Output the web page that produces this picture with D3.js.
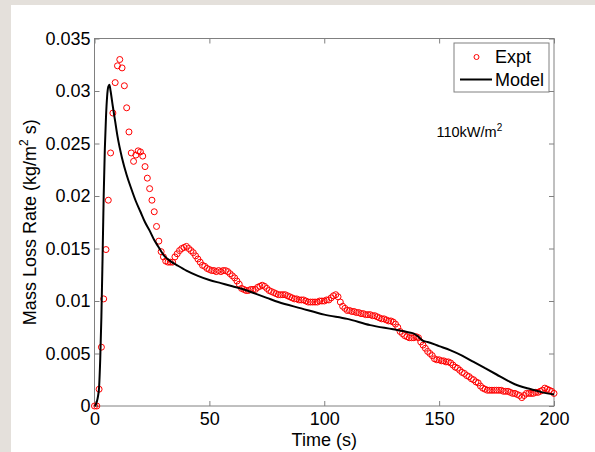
<!DOCTYPE html>
<html>
<head>
<meta charset="utf-8">
<script src="https://cdn.jsdelivr.net/npm/d3@7"></script>
<style>
body{margin:0;background:#fff;overflow:hidden;}
text{font-family:"Liberation Sans",Arial,sans-serif;}
</style>
</head>
<body>
<div class="container"></div>
<script>
// experiment, one sample per second
var exptT=[0,1,2,3,4,5,6,7,8,9,10,11,12,13,14,15,16,17,18,19,20,21,22,23,24,25,26,27,28,29,30,
31,32,33,34,35,36,37,38,39,40,41,42,43,44,45,46,47,48,49,50,51,52,53,54,55,56,57,58,59,60,
61,62,63,64,65,66,67,68,69,70,71,72,73,74,75,76,77,78,79,80,81,82,83,84,85,86,87,88,89,90,
91,92,93,94,95,96,97,98,99,100,101,102,103,104,105,106,107,108,109,110,111,112,113,114,115,116,117,118,119,120,
121,122,123,124,125,126,127,128,129,130,131,132,133,134,135,136,137,138,139,140,141,142,143,144,145,146,147,148,149,150,
151,152,153,154,155,156,157,158,159,160,161,162,163,164,165,166,167,168,169,170,171,172,173,174,175,176,177,178,179,180,
181,182,183,184,185,186,187,188,189,190,191,192,193,194,195,196,197,198,199,200];
var exptV=[0,0,0.0016,0.0056,0.0102,0.0149,0.0196,0.0241,0.0279,0.0308,0.0324,0.0330,0.0322,0.0305,0.0284,0.0261,0.0241,0.0233,0.0239,0.0243,0.0242,
0.0238,0.0228,0.0217,0.0207,0.0196,0.0185,0.0171,0.0157,0.0147,0.0142,
0.0138,0.0137,0.0137,0.0137,0.0142,0.0145,0.0148,0.0150,0.0151,0.0152,
0.0150,0.0148,0.0146,0.0143,0.0140,0.0137,0.0134,0.0133,0.0131,0.0130,
0.0129,0.0129,0.0128,0.0129,0.0128,0.0129,0.0129,0.0128,0.0126,0.0124,
0.0122,0.0119,0.0116,0.0112,0.0111,0.0110,0.0110,0.0111,0.0111,0.0111,
0.0113,0.0114,0.0115,0.0114,0.0112,0.0110,0.0109,0.0108,0.0107,0.0106,
0.0106,0.0106,0.0106,0.0105,0.0104,0.0103,0.0102,0.0102,0.0101,0.0101,
0.0101,0.0100,0.0099,0.0099,0.0099,0.0099,0.0099,0.0100,0.0100,0.0100,
0.0101,0.0101,0.0103,0.0105,0.0106,0.0104,0.0099,0.0095,0.0093,0.0091,
0.0091,0.0090,0.0090,0.0089,0.0089,0.0088,0.0088,0.0087,0.0087,0.0087,
0.0086,0.0086,0.0085,0.0084,0.0083,0.0083,0.0082,0.0081,0.0081,0.0080,
0.0078,0.0075,0.0071,0.0069,0.0067,0.0066,0.0065,0.0065,0.0065,0.0066,
0.0065,0.0061,0.0058,0.0055,0.0052,0.0050,0.0048,0.0045,0.0044,0.0044,
0.0043,0.0043,0.0042,0.0042,0.0041,0.0039,0.0037,0.0036,0.0034,0.0032,
0.0031,0.0029,0.0028,0.0026,0.0025,0.0023,0.0022,0.0019,0.0017,0.0016,
0.0015,0.0015,0.0015,0.0015,0.0015,0.0015,0.0015,0.0014,0.0014,0.0014,
0.0013,0.0012,0.0012,0.0011,0.0010,0.0008,0.0010,0.0012,0.0012,0.0012,
0.0012,0.0013,0.0013,0.0014,0.0015,0.0017,0.0016,0.0015,0.0014,0.0012];

// model curve
var modelT=[0,0.5,1,1.5,2,2.5,3,3.5,4,4.5,5,5.5,6,6.5,7,8,9,10,12,14,16,18,20,22,24,26,28,30,33,36,40,45,50,55,60,65,70,75,80,90,100,110,120,130,137,139,141,143,145,150,155,160,165,170,175,180,185,190,195,200];
var modelV=[0,0.0001,0.0004,0.0009,0.0018,0.0045,0.0085,0.0140,0.0200,0.0245,0.0275,0.0295,0.0304,0.0306,0.0300,0.0285,0.0271,0.0257,0.0236,0.0220,0.0207,0.0195,0.0185,0.0175,0.0167,0.0158,0.0151,0.0144,0.0138,0.0134,0.0129,0.0124,0.0120,0.0117,0.0114,0.0111,0.0107,0.0103,0.0099,0.0093,0.0087,0.0083,0.0077,0.0073,0.0070,0.0069,0.0066,0.0062,0.0061,0.0057,0.0053,0.0048,0.0042,0.0036,0.0030,0.0024,0.0019,0.0016,0.0013,0.0011];

var xTicks=[0,50,100,150,200];
var yTicks=[0,0.005,0.01,0.015,0.02,0.025,0.03,0.035];
var yTickLabels=["0","0.005","0.01","0.015","0.02","0.025","0.03","0.035"];

var width=595,height=452;
var plot={left:94.5,top:38.5,right:554,bottom:406};
var axisColor="#808080";

var svg=d3.select(".container").append("svg").attr("width",width).attr("height",height);

svg.append("rect").attr("width",width).attr("height",height).attr("fill","#e4e0db");
svg.append("rect").attr("x",11).attr("y",5).attr("width",width-11).attr("height",height-5).attr("fill","#fff");

var x=d3.scaleLinear().domain([0,200]).range([plot.left,plot.right]);
var y=d3.scaleLinear().domain([0,0.035]).range([plot.bottom,plot.top]);

var xAxis=d3.axisBottom(x).tickValues(xTicks).tickSizeInner(-5).tickSizeOuter(0).tickPadding(6).tickFormat(d3.format("d"));
var yAxis=d3.axisLeft(y).tickValues(yTicks).tickSizeInner(-5).tickSizeOuter(0).tickPadding(4)
        .tickFormat(function(d,i){ return yTickLabels[i];});
var xTop=d3.axisTop(x).tickValues(xTicks).tickSizeInner(-5).tickSizeOuter(0).tickFormat("");
var yRight=d3.axisRight(y).tickValues(yTicks).tickSizeInner(-5).tickSizeOuter(0).tickFormat("");

function styleAxis(g){
    g.select(".domain").remove();
    g.selectAll(".tick line").attr("stroke",axisColor);
    g.selectAll(".tick text").attr("fill","#000").attr("font-size","18px")
        .attr("font-family","'Liberation Sans',Arial,sans-serif");
}

svg.append("g").attr("transform","translate(0,"+plot.bottom+")").call(xAxis).call(styleAxis);
svg.append("g").attr("transform","translate("+plot.left+",0)").call(yAxis).call(styleAxis);
svg.append("g").attr("transform","translate(0,"+plot.top+")").call(xTop).call(styleAxis);
svg.append("g").attr("transform","translate("+plot.right+",0)").call(yRight).call(styleAxis);

svg.append("rect")
    .attr("x",plot.left).attr("y",plot.top)
    .attr("width",plot.right-plot.left).attr("height",plot.bottom-plot.top)
    .attr("fill","none").attr("stroke",axisColor).attr("stroke-width",1);

// expt markers
svg.append("g").selectAll("circle")
    .data(exptT)
    .enter().append("circle")
    .attr("cx",function(d){ return x(d);})
    .attr("cy",function(d,i){ return y(exptV[i]);})
    .attr("r",3)
    .attr("fill","none")
    .attr("stroke","#ff0000")
    .attr("stroke-width",1);

// model line
var line=d3.line()
    .x(function(d){ return x(d);})
    .y(function(d,i){ return y(modelV[i]);})
    .curve(d3.curveMonotoneX);

svg.append("path")
    .attr("fill","none")
    .attr("stroke","#000")
    .attr("stroke-width",2)
    .attr("stroke-linejoin","round")
    .attr("d",line(modelT));

// axis labels
svg.append("text")
    .attr("x",(plot.left+plot.right)/2)
    .attr("y",446)
    .attr("text-anchor","middle")
    .attr("font-size","18px")
    .text("Time (s)");

var ylab=svg.append("text")
    .attr("transform","translate(36,"+((plot.top+plot.bottom)/2)+") rotate(-90)")
    .attr("text-anchor","middle")
    .attr("font-size","18px");
ylab.append("tspan").text("Mass Loss Rate (kg/m");
ylab.append("tspan").attr("font-size","12px").attr("dy","-8").text("2");
ylab.append("tspan").attr("dy","8").text(" s)");

// annotation
var ann=svg.append("text").attr("x",436.5).attr("y",136.5).attr("font-size","14.5px");
ann.append("tspan").text("110kW/m");
ann.append("tspan").attr("font-size","10px").attr("dy","-6").text("2");

// legend
var legend=svg.append("g");
legend.append("rect")
    .attr("x",454).attr("y",43).attr("width",95).attr("height",49)
    .attr("fill","#fff").attr("stroke",axisColor);
legend.append("circle")
    .attr("cx",476.5).attr("cy",57).attr("r",2.5)
    .attr("fill","none").attr("stroke","#ff0000");
legend.append("line")
    .attr("x1",460).attr("x2",492).attr("y1",79.5).attr("y2",79.5)
    .attr("stroke","#000").attr("stroke-width",2);
legend.append("text").attr("x",495).attr("y",62.5).attr("font-size","18px").text("Expt");
legend.append("text").attr("x",495).attr("y",86).attr("font-size","18px").text("Model");
</script>
</body>
</html>
